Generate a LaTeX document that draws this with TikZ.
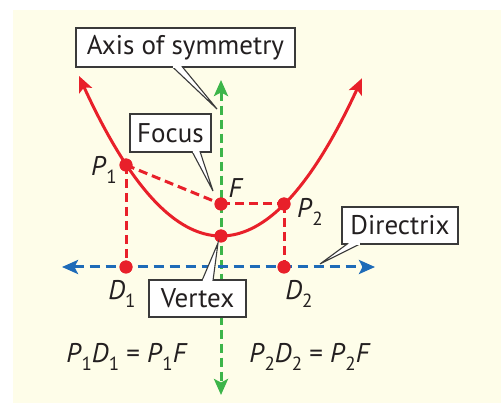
\documentclass[tikz,border=0pt]{standalone}
\usepackage{fontspec}
\setmainfont{PT Sans}
\usetikzlibrary{arrows.meta,calc}
\definecolor{bgc}{HTML}{FEFDE9}
\definecolor{redc}{HTML}{E8202A}
\definecolor{greenc}{HTML}{3DB54A}
\definecolor{bluec}{HTML}{1E6BB8}
\definecolor{bordc}{HTML}{3A3A3A}
\definecolor{txtc}{HTML}{231F20}
\newcommand{\sbl}[2]{\textit{#1}\raisebox{-0.28em}{\fontsize{19}{19}\selectfont #2}}
\tikzset{
  callbox/.style={draw=bordc,line width=1.4pt,fill=white,inner sep=0pt,text=txtc,font=\fontsize{27}{30}\selectfont},
  wedge/.style={draw=bordc,line width=1.1pt,fill=white,line join=miter},
  dotp/.style={circle,fill=redc,inner sep=0pt,minimum size=13pt},
  reddash/.style={redc,line width=3pt,dash pattern=on 9pt off 5pt},
  lab/.style={text=txtc,font=\fontsize{27}{30}\selectfont,inner sep=0pt},
  tip/.style={Stealth[length=16pt,width=14pt,inset=3.5pt]},
}
\begin{document}
\begin{tikzpicture}[x=1pt,y=-1pt]
\useasboundingbox (0,0) rectangle (501,406);
\fill[bgc] (13,10) rectangle (501,403);
% axis of symmetry
\coordinate (axT) at (221,80);
\coordinate (axB) at (221,395);
\draw[greenc,line width=3pt,dash pattern=on 9pt off 5pt,{Stealth[length=16pt,width=14pt,inset=3.5pt]}-{Stealth[length=16pt,width=14pt,inset=3.5pt]}] (axT) -- (axB);
% directrix
\coordinate (dL) at (62,267);
\coordinate (dR) at (375,267);
\draw[bluec,line width=3pt,dash pattern=on 10pt off 6pt,{Stealth[length=16pt,width=14pt,inset=3.5pt]}-{Stealth[length=16pt,width=14pt,inset=3.5pt]}] (dL) -- (dR);
% points
\node[dotp] (P1) at (126,165) {};
\node[dotp] (F) at (221,204) {};
\node[dotp] (P2) at (284,204) {};
\node[dotp] (V) at (221,236) {};
\node[dotp] (D1) at (126,267) {};
\node[dotp] (D2) at (284,267) {};
% dashed segments
\draw[reddash] (P1.center) -- (F.center);
\draw[reddash] (F.center) -- (P2.center);
\draw[reddash] (P1.center) -- (D1.center);
\draw[reddash] (P2.center) -- (D2.center);
% parabola
\draw[redc,line width=3pt,{Stealth[length=16pt,width=14pt,inset=3.5pt]}-{Stealth[length=16pt,width=14pt,inset=3.5pt]}]
  plot[domain=-142:141,samples=80,smooth] ({221+\x},{236-(\x/11.225)*(\x/11.225)});
% redraw dots on top
\foreach \n in {P1,F,P2,V,D1,D2} \fill[redc] (\n) circle (6.5pt);
% callouts
\node[callbox,minimum width=219pt,minimum height=39pt] (axbox) at (185.5,47.5) {Axis of symmetry};
\coordinate (axtip) at (217,109);
\draw[wedge] (172,66.4) -- (axtip) -- (182,66.4);
\fill[white] (172.8,65) -- (181.2,65) -- (181.2,67.6) -- (172.8,67.6) -- cycle;

\node[callbox,minimum width=81pt,minimum height=38pt] (fbox) at (170.5,133) {Focus};
\coordinate (ftip) at (213,191);
\draw[wedge] (192,151.4) -- (ftip) -- (200,151.4);
\fill[white] (192.8,150) rectangle (199.2,152.6);

\node[callbox,minimum width=116pt,minimum height=37pt] (dbox) at (400,225.5) {Directrix};
\coordinate (dtip) at (320,264);
\draw[wedge] (348,243.4) -- (dtip) -- (361,243.4);
\fill[white] (348.8,242) rectangle (360,244.6);

\node[callbox,minimum width=97pt,minimum height=37pt] (vbox) at (197.5,298.5) {Vertex};
\coordinate (vtip) at (218,243);
\draw[wedge] (202,280.6) -- (vtip) -- (213,280.6);
\fill[white] (202.8,279.4) rectangle (212.2,282);
% labels
\node[lab] (lP1) at (104,170) {\sbl{P}{1}};
\node[lab] (lF) at (236,188) {\textit{F}};
\node[lab] (lP2) at (310,212) {\sbl{P}{2}};
\node[lab] (lD1) at (122,294) {\sbl{D}{1}};
\node[lab] (lD2) at (299,294) {\sbl{D}{2}};
\node[lab] (eq1) at (127,357) {\sbl{P}{1}\sbl{D}{1} = \sbl{P}{1}\textit{F}};
\node[lab] (eq2) at (310,357) {\sbl{P}{2}\sbl{D}{2} = \sbl{P}{2}\textit{F}};
\end{tikzpicture}
\end{document}
